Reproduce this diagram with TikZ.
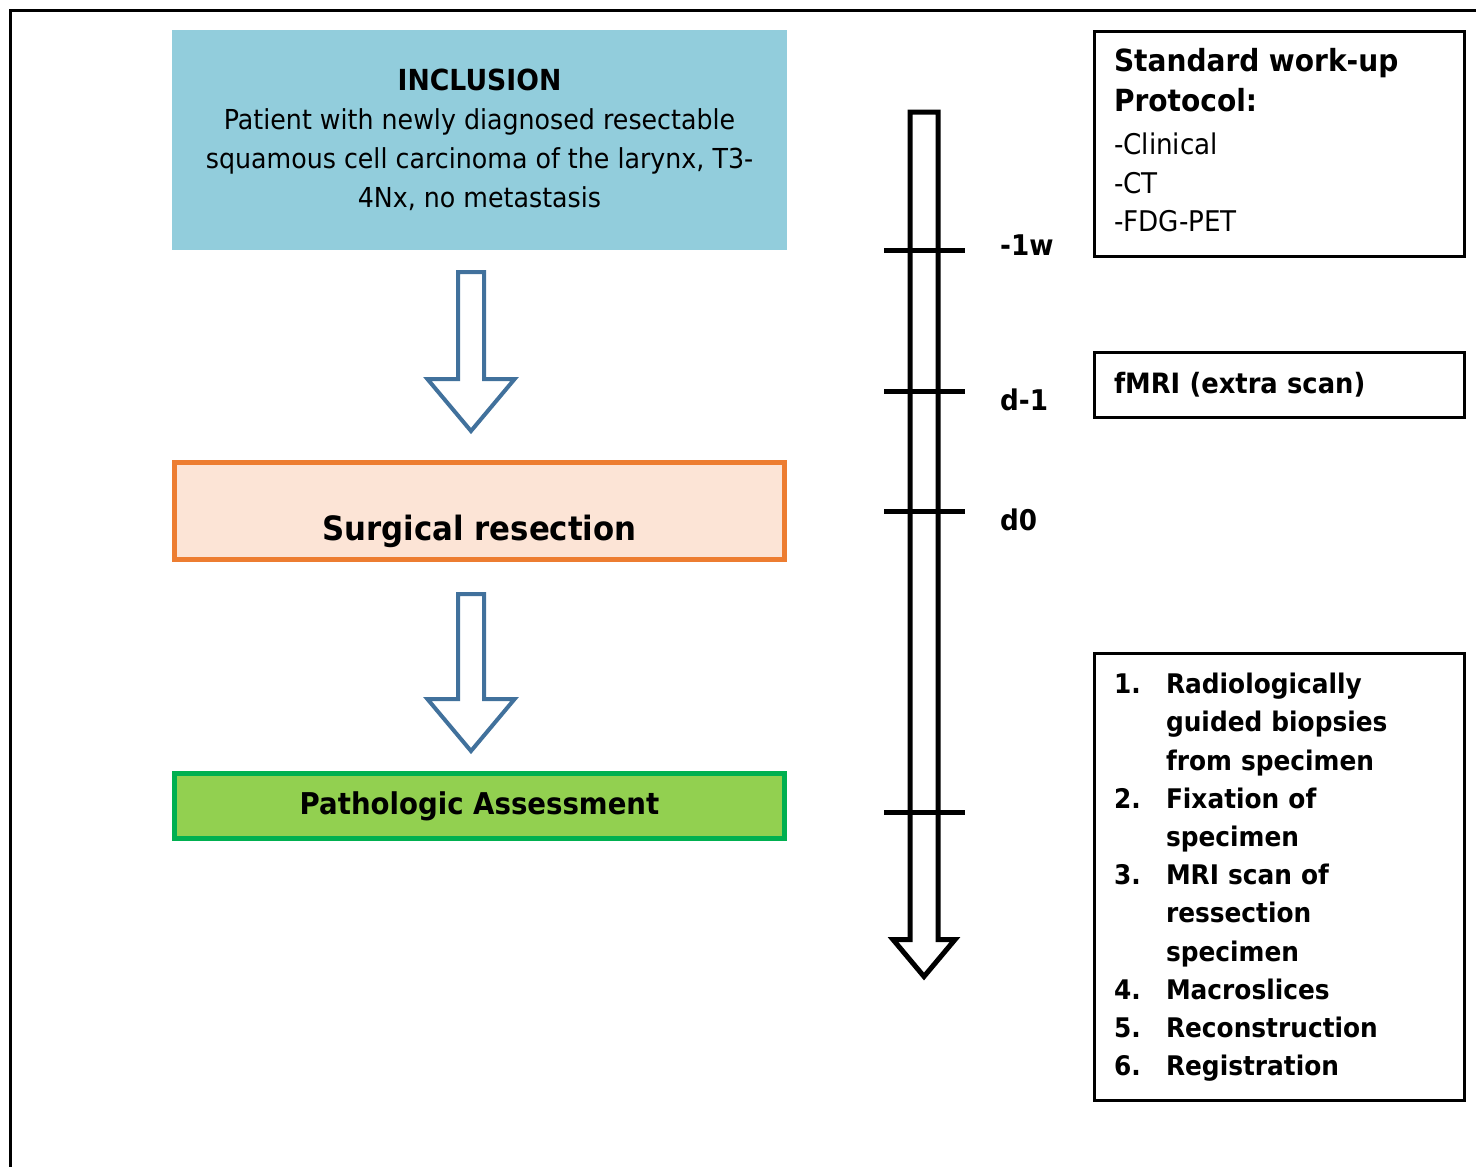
\documentclass[tikz,border=0pt]{standalone}
\usepackage{fontspec}
\setmainfont{DejaVu Sans}[FakeStretch=0.92]
\usetikzlibrary{shapes.arrows}

\definecolor{inclblue}{HTML}{92CDDC}
\definecolor{surgfill}{HTML}{FCE4D6}
\definecolor{surgline}{HTML}{ED7D31}
\definecolor{pathfill}{HTML}{92D050}
\definecolor{pathline}{HTML}{00B050}
\definecolor{arrowblue}{HTML}{41719C}

\newcommand{\fsz}[2]{\fontsize{#1}{#2}\selectfont}

\tikzset{
  stagebox/.style={minimum width=610, inner sep=0, line width=5},
  hollowarrow/.style={single arrow, draw=arrowblue, fill=white, line width=4,
    rotate=-90, anchor=tail, inner sep=11, single arrow head extend=30.5,
    single arrow tip angle=80},
  infobox/.style={draw, line width=3, minimum width=370, inner xsep=19.5,
    inner ysep=0, text width=331, align=left},
  tick/.style={line width=5},
  daylabel/.style={anchor=west, inner sep=0, font=\fsz{28.5}{34}\bfseries},
}

\begin{document}
\begin{tikzpicture}[x=1pt,y=-1pt]
\useasboundingbox (0,0) rectangle (1476,1167);
\draw[line width=3] (10.5,1167) -- (10.5,10.5) -- (1476,10.5);

% left column: the three stages
\node[stagebox, fill=inclblue, minimum width=615, minimum height=220,
  align=center, font=\fsz{27.5}{39}] (incl) at (479.5,140)
  {{\fsz{29}{39}\bfseries INCLUSION}\\Patient with newly diagnosed resectable\\
   squamous cell carcinoma of the larynx, T3-\\4Nx, no metastasis};
\node[stagebox, draw=surgline, fill=surgfill, text height=77.5, text depth=19.5,
  anchor=base, font=\fsz{33.5}{38}\bfseries] (surg) at (479.5,540) {Surgical resection};
\node[stagebox, draw=pathline, fill=pathfill, minimum height=65,
  font=\fsz{30}{34}\bfseries] (path) at (479.5,806) {Pathologic Assessment};

\node[hollowarrow, minimum height=159] (arr1) at (471,270) {};
\node[hollowarrow, minimum height=157] (arr2) at (471,592) {};

% time line
\node[single arrow, draw, fill=white, line width=5, rotate=-90, anchor=tail,
  inner sep=11.5, minimum height=864.5, single arrow head extend=17,
  single arrow tip angle=80] (time) at (924,109.5) {};
\foreach \y in {250,391,511,812}
  \draw[tick] (884,\y) -- (965,\y);
\node[daylabel] (w1) at (1000,245) {-1w};
\node[daylabel] (dm1) at (1000,400) {d-1};
\node[daylabel] (d0) at (1000,520) {d0};

% right column: what happens at each point
\node[infobox, minimum height=225, font=\fsz{28.5}{38.5}] (workup) at (1279.5,144)
  {\begin{tabular}{@{}l@{}}
   \fsz{30.5}{40}\bfseries Standard work-up\\[1.5pt]
   \fsz{30.5}{40}\bfseries Protocol:\\[4.5pt]
   -Clinical\\
   -CT\\
   -FDG-PET
   \end{tabular}};
\node[infobox, minimum height=65, font=\fsz{28}{32}\bfseries] (fmri) at (1279.5,385)
  {fMRI (extra scan)};
\node[infobox, minimum height=447, font=\fsz{27}{38.2}\bfseries] (steps) at (1279.5,877)
  {\begin{tabular}{@{}p{52pt}@{}l@{}}
   1. & Radiologically\\
      & guided biopsies\\
      & from specimen\\
   2. & Fixation of\\
      & specimen\\
   3. & MRI scan of\\
      & ressection\\
      & specimen\\
   4. & Macroslices\\
   5. & Reconstruction\\
   6. & Registration
   \end{tabular}};
\end{tikzpicture}
\end{document}
